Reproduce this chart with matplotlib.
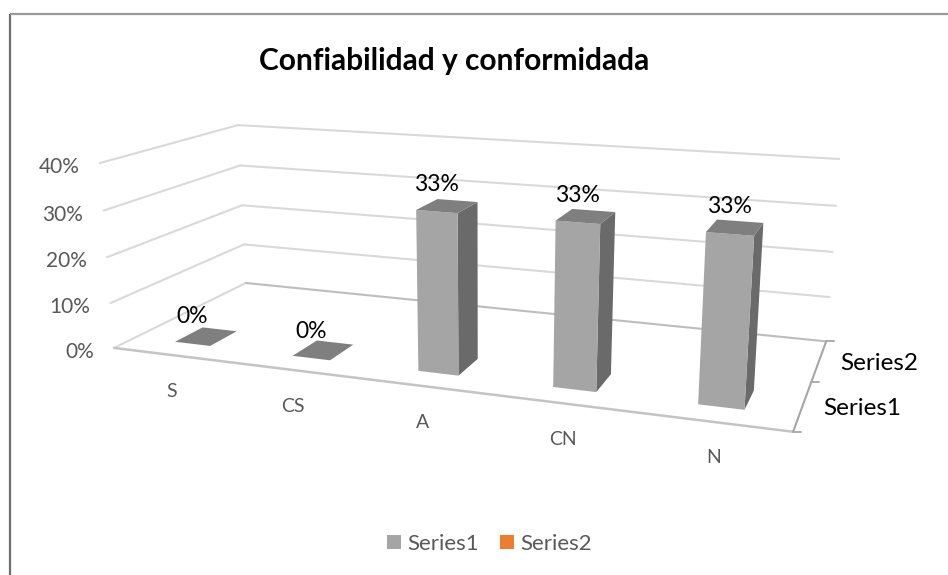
import numpy as np
import matplotlib
matplotlib.use("Agg")
import matplotlib.pyplot as plt
from matplotlib.patches import Polygon, Patch

FONT = ['Lato', 'DejaVu Sans']
plt.rcParams['font.family'] = FONT

# ---- data
title = "Confiabilidad y conformidada"
categories = ["S", "CS", "A", "CN", "N"]
series_names = ["Series1", "Series2"]
series1 = [0, 0, 33.33, 33.33, 33.33]
series1_labels = ["0%", "0%", "33%", "33%", "33%"]
y_ticks = [0, 10, 20, 30, 40]

# ---- layout: world (category, series depth, percent) -> image pixels
world = np.array([(0,0,0),(5,0,0),(0,2,0),(5,2,0),(0,2,40),(5,2,40),(0,0,40),
                  (0,2,20),(5,2,20),(0,0,20)], float)
pix = np.array([(114,348),(793,432),(246,283),(826,341),(238,125),(839,159),(100,163),
                (242,205.5),(833,252),(107,257)], float)
A = []
b = []
for (X,Y,Z),(u,v) in zip(world,pix):
    A.append([X,Y,Z,1,0,0,0,0,-u*X,-u*Y,-u*Z]); b.append(u)
    A.append([0,0,0,0,X,Y,Z,1,-v*X,-v*Y,-v*Z]); b.append(v)
P = np.linalg.lstsq(np.array(A), np.array(b), rcond=None)[0]
P = np.append(P, 1).reshape(3, 4)

def proj(x, d, h):
    q = P @ np.array([x, d, h, 1.0])
    return q[0]/q[2], q[1]/q[2]

fig = plt.figure(figsize=(9.48, 5.75), dpi=100, facecolor='white')
ax = fig.add_axes([0, 0, 1, 1])
ax.set_xlim(0, 948); ax.set_ylim(575, 0); ax.axis('off')

# chart border
ax.plot([10, 10], [575, 14], color='#6E6E6E', lw=1.6, solid_capstyle='butt')
ax.plot([10, 948], [14, 14], color='#9A9A9A', lw=1.6, solid_capstyle='butt')

GRID = '#D9D9D9'
def seg(p, q, **kw):
    ax.plot([p[0], q[0]], [p[1], q[1]], solid_capstyle='round', **kw)

# walls
for t in y_ticks:
    c = '#BDBDBD' if t == 0 else GRID
    seg(proj(0,0,t), proj(0,2,t), color=GRID, lw=1.5)
    seg(proj(0,2,t), proj(5,2,t), color=c, lw=1.5)
    x, y = proj(0,0,t)
    ax.text(x-20, y+4, f"{t}%", ha='right', va='center', fontsize=15, color='#595959')

# floor edges and depth axis
seg(proj(0,0,0), proj(5,0,0), color='#C4C4C4', lw=1.8)
seg(proj(5,0,0), proj(5,2,0), color='#A6A6A6', lw=1.5)
for d in (0, 1, 2):
    x, y = proj(5, d, 0)
    seg((x, y), (x+8, y), color='#A6A6A6', lw=1.3)

# bars
W, D0, D1 = 0.305, 0.29, 0.69
FRONT, SIDE, TOP = '#A5A5A5', '#6A6A6A', '#7F7F7F'
for i, (val, lab) in enumerate(zip(series1, series1_labels)):
    x0, x1 = i+0.5-W/2, i+0.5+W/2
    if val > 0:
        ax.add_patch(Polygon([proj(x1,D0,0),proj(x1,D1,0),proj(x1,D1,val),proj(x1,D0,val)], fc=SIDE, ec='none', zorder=3))
        ax.add_patch(Polygon([proj(x0,D0,0),proj(x1,D0,0),proj(x1,D0,val),proj(x0,D0,val)], fc=FRONT, ec='none', zorder=3))
    ax.add_patch(Polygon([proj(x0,D0,val),proj(x1,D0,val),proj(x1,D1,val),proj(x0,D1,val)], fc=TOP, ec='none', zorder=3))
    tx, ty = proj(i+0.5, D0, val)
    ax.text(tx, ty-27, lab, ha='center', va='center', fontsize=16.5, color='black', zorder=5)
    lx, ly = proj(i+0.5, 0, 0)
    ax.text(lx, ly+36, categories[i], ha='center', va='center', fontsize=14, color='#595959')

# depth axis labels
for d, name in zip((0.5, 1.5), series_names):
    x, y = proj(5, d, 0)
    ax.text(x+21, y+3, name, ha='left', va='center', fontsize=17.5, color='black')

ax.text(454, 61, title, ha='center', va='center', fontsize=21.5, fontweight='bold', color='black')

handles = [Patch(fc='#A5A5A5', ec='none'), Patch(fc='#ED7D31', ec='none')]
ax.legend(handles, series_names, loc='center', bbox_to_anchor=(489.5/948, 1-544/575), ncol=2, frameon=False,
          fontsize=16, labelcolor='#595959', handlelength=0.63, handleheight=0.63, handletextpad=0.3, columnspacing=0.92)

fig.savefig('out.png', dpi=100)
